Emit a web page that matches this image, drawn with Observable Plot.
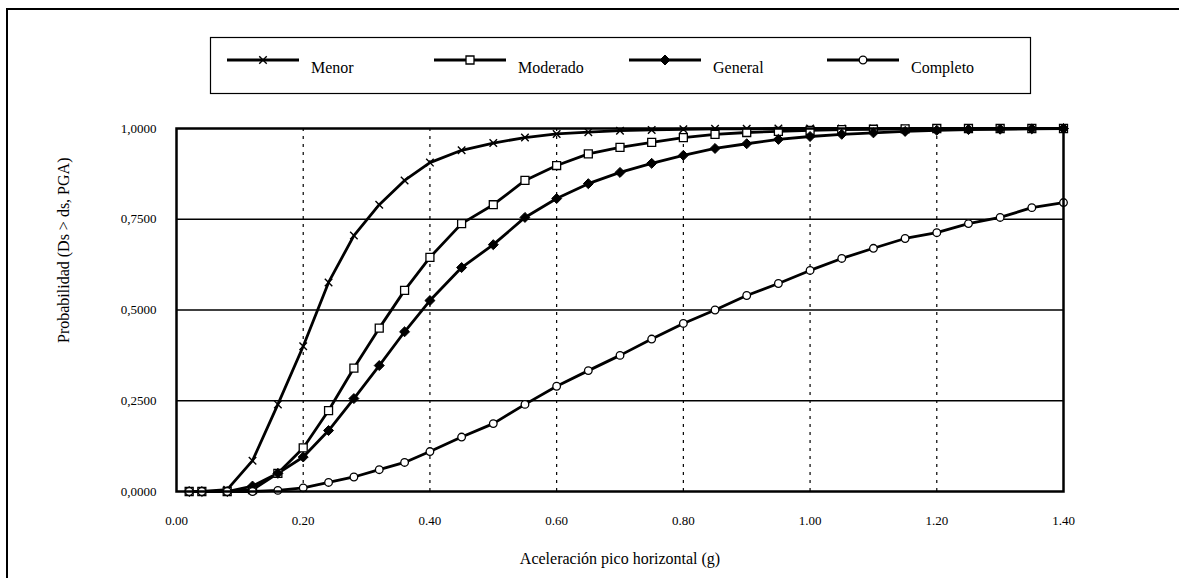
<!DOCTYPE html>
<html><head><meta charset="utf-8">
<script src="https://cdn.jsdelivr.net/npm/d3@7"></script>
<script src="https://cdn.jsdelivr.net/npm/@observablehq/plot@0.6"></script>
<style>
body{margin:0;background:#fff;}
#wrap{position:relative;width:1179px;height:578px;overflow:hidden;font-family:'Liberation Serif','DejaVu Serif',serif;background:#fff;}
#wrap svg text{font-family:'Liberation Serif','DejaVu Serif',serif !important;}
#chart{position:absolute;left:0;top:0;}
#frameL{position:absolute;left:6px;top:8px;width:2px;height:570px;background:#000;}
#frameT{position:absolute;left:6px;top:8px;width:1173px;height:2px;background:#000;}
#legend{position:absolute;left:0;top:0;}
</style></head>
<body>
<div id="wrap"><div id="chart"></div><div id="frameL"></div><div id="frameT"></div></div>
<script>
const series = ["Menor", "Moderado", "General", "Completo"];
const pga = [0.02,0.04,0.08,0.12,0.16,0.20,0.24,0.28,0.32,0.36,0.40,0.45,0.50,0.55,0.60,0.65,0.70,0.75,0.80,0.85,0.90,0.95,1.00,1.05,1.10,1.15,1.20,1.25,1.30,1.35,1.40];
const menor    = [0,0,0.005,0.085,0.24,0.40,0.576,0.705,0.79,0.857,0.906,0.94,0.96,0.975,0.985,0.99,0.994,0.996,0.998,0.999,0.999,1,1,1,1,1,1,1,1,1,1];
const moderado = [0,0,0,0.005,0.05,0.12,0.223,0.34,0.45,0.554,0.645,0.738,0.79,0.857,0.898,0.93,0.948,0.962,0.975,0.984,0.989,0.992,0.995,0.997,0.998,0.999,1,1,1,1,1];
const general  = [0,0,0,0.015,0.05,0.095,0.168,0.256,0.347,0.44,0.526,0.617,0.68,0.755,0.807,0.848,0.879,0.904,0.926,0.945,0.958,0.97,0.978,0.984,0.988,0.992,0.995,0.997,0.998,0.999,1];
const completo = [0,0,0,0,0.003,0.01,0.025,0.04,0.06,0.08,0.11,0.15,0.187,0.24,0.29,0.333,0.375,0.42,0.463,0.50,0.54,0.573,0.609,0.642,0.67,0.697,0.713,0.738,0.755,0.782,0.796];
const xTicks = [0,0.2,0.4,0.6,0.8,1.0,1.2,1.4];
const xTickLabels = ["0.00","0.20","0.40","0.60","0.80","1.00","1.20","1.40"];
const yTicks = [0,0.25,0.5,0.75,1];
const yTickLabels = ["0,0000","0,2500","0,5000","0,7500","1,0000"];
const xGrid = [0.2,0.4,0.6,0.8,1.0,1.2];
const yGrid = [0.25,0.5,0.75];
const xTitle = "Aceleración pico horizontal (g)";
const yTitle = "Probabilidad (Ds > ds, PGA)";

const values = [menor, moderado, general, completo];
const data = [];
series.forEach((s, i) => pga.forEach((x, j) => data.push({serie: s, x, y: values[i][j]})));
const bySerie = s => data.filter(d => d.serie === s);

const markerStyle = {
  "Menor":    {symbol: "times",   r: 3.5, fill: "none", stroke: "#000", strokeWidth: 1.4},
  "Moderado": {symbol: "square",  r: 4.5, fill: "#fff", stroke: "#000", strokeWidth: 1.3},
  "General":  {symbol: "diamond2",r: 4.5, fill: "#000", stroke: "#000", strokeWidth: 1},
  "Completo": {symbol: "circle",  r: 3.8, fill: "#fff", stroke: "#000", strokeWidth: 1.3}
};

const FONT = "'Liberation Serif', 'DejaVu Serif', serif";
const chart = Plot.plot({
  width: 1179, height: 578,
  marginLeft: 176, marginRight: 116, marginTop: 128, marginBottom: 87,
  x: {domain: [0, 1.4]},
  y: {domain: [0, 1]},
  style: {fontFamily: FONT, fontSize: "13px", color: "#000", background: "transparent"},
  marks: [
    Plot.ruleY(yGrid, {stroke: "#000", strokeWidth: 1.3}),
    Plot.ruleX(xGrid, {stroke: "#000", strokeWidth: 1.2, strokeDasharray: "3,5"}),
    Plot.axisX({ticks: xTicks, tickFormat: d => xTickLabels[xTicks.indexOf(d)], tickSize: 0, tickPadding: 24, label: null, fontSize: 13}),
    Plot.axisY({ticks: yTicks, tickFormat: d => yTickLabels[yTicks.indexOf(d)], tickSize: 0, tickPadding: 20, label: null, fontSize: 13}),
    Plot.line(data, {x: "x", y: "y", z: "serie", stroke: "#000", strokeWidth: 2.8}),
    ...series.map(s => Plot.dot(bySerie(s), {x: "x", y: "y", ...markerStyle[s]})),
    Plot.frame({stroke: "#000", strokeWidth: 2.5}),
    Plot.text([xTitle], {frameAnchor: "bottom", dy: 72, fontSize: 16, text: d => d}),
    Plot.text([yTitle], {frameAnchor: "left", dx: -113, dy: 33, rotate: -90, fontSize: 16, text: d => d})
  ]
});
document.getElementById("chart").appendChild(chart);

// Legend
const lx = [227, 434, 629, 827];
const symMap = {times: d3.symbolTimes, square: d3.symbolSquare, diamond2: d3.symbolDiamond2, circle: d3.symbolCircle};
const leg = d3.select("#wrap").append("svg").attr("id", "legend").attr("width", 1179).attr("height", 110);
leg.append("rect").attr("x", 210.5).attr("y", 37.5).attr("width", 820).attr("height", 56)
  .attr("fill", "none").attr("stroke", "#000").attr("stroke-width", 1.2);
series.forEach((s, i) => {
  const g = leg.append("g");
  const m = markerStyle[s];
  g.append("line").attr("x1", lx[i]).attr("x2", lx[i] + 72).attr("y1", 60).attr("y2", 60)
    .attr("stroke", "#000").attr("stroke-width", 2.8);
  g.append("path").attr("transform", `translate(${lx[i] + 36},60)`)
    .attr("d", d3.symbol(symMap[m.symbol], Math.PI * m.r * m.r)())
    .attr("fill", m.fill).attr("stroke", m.stroke).attr("stroke-width", m.strokeWidth);
  g.append("text").attr("x", lx[i] + 84).attr("y", 73)
    .attr("font-size", 16).attr("fill", "#000").text(s);
});
</script>
</body></html>
